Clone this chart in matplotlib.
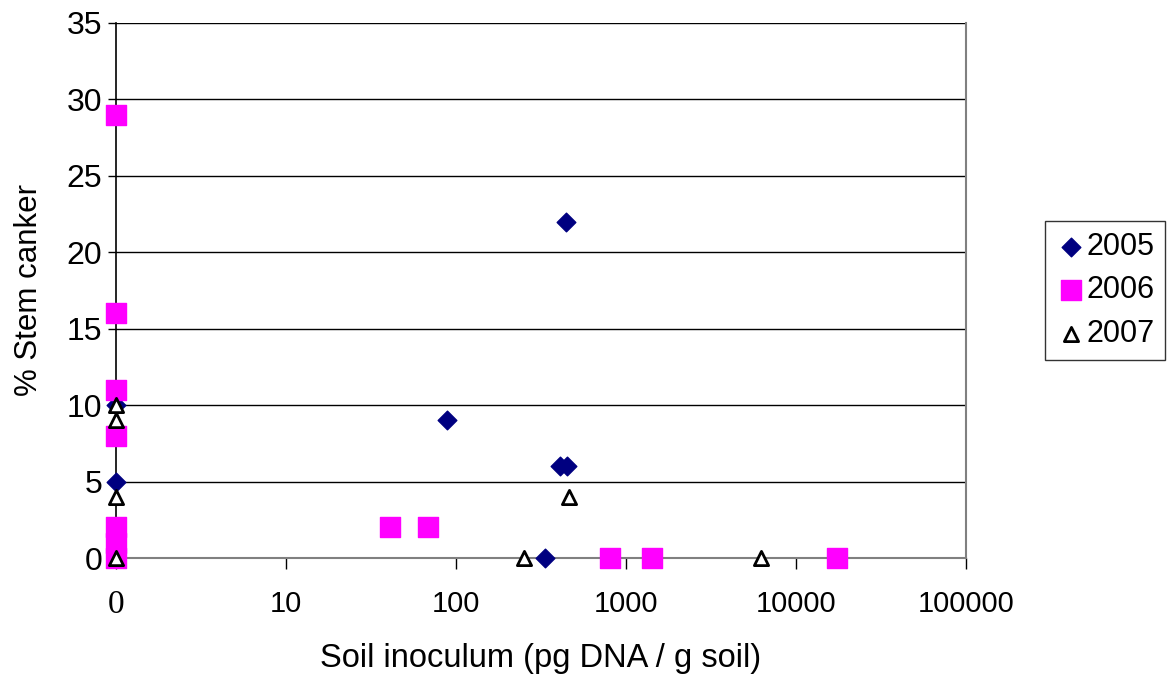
import matplotlib.pyplot as plt
import numpy as np

# soil inoculum (pg DNA / g soil); 1 is shown as "0" on the log axis
x_2005 = [1, 1, 88, 444, 409, 450, 334]
y_2005 = [5, 10, 9, 22, 6, 6, 0]

x_2006 = [1, 1, 1, 1, 1, 1, 1, 41, 68, 805, 1420, 17400]
y_2006 = [29, 16, 11, 8, 2, 1, 0, 2, 2, 0, 0, 0]

x_2007 = [1, 1, 1, 1, 251, 462, 6220]
y_2007 = [10, 9, 4, 0, 0, 4, 0]

xticks = [1, 10, 100, 1000, 10000, 100000]
xticklabels = ['0', '10', '100', '1000', '10000', '100000']

plt.rcParams['font.family'] = ['Liberation Sans', 'DejaVu Sans']

fig = plt.figure(figsize=(11.72, 6.79), dpi=100)
ax = fig.add_axes([116 / 1172, 1 - 558 / 679, 850 / 1172, 535 / 679])

ax.scatter(x_2005, y_2005, marker='D', s=90, color='#000080', label='2005',
           zorder=3, clip_on=False)
ax.scatter(x_2006, y_2006, marker='s', s=190, color='#ff00ff', label='2006',
           zorder=3, clip_on=False)
ax.scatter(x_2007, y_2007, marker='^', s=105, facecolor='white', edgecolor='black',
           linewidth=2, label='2007', zorder=4, clip_on=False)

ax.set_xscale('log')
ax.set_xlim(1, 100000)
ax.set_ylim(0, 35)
ax.set_xticks(xticks)
ax.set_xticklabels(xticklabels, fontsize=21)
ax.xaxis.set_minor_locator(plt.NullLocator())
ax.get_xticklabels()[0].set_family('Liberation Serif')
ax.get_xticklabels()[0].set_fontsize(24)
ax.set_yticks(np.arange(0, 36, 5))
ax.tick_params(axis='y', labelsize=23, length=6, width=1, pad=4)
ax.tick_params(axis='x', length=8, width=1, pad=15)

ax.grid(axis='y', color='black', linewidth=1)
ax.set_axisbelow(True)
ax.spines['top'].set_visible(False)
ax.spines['right'].set_color('#808080')
ax.spines['right'].set_linewidth(1.5)
ax.spines['bottom'].set_color('#808080')
ax.spines['bottom'].set_linewidth(1.5)
ax.spines['left'].set_linewidth(1.2)

ax.set_xlabel('Soil inoculum (pg DNA / g soil)', fontsize=23.5, labelpad=16)
ax.set_ylabel('% Stem canker', fontsize=22.5, labelpad=16)

leg = ax.legend(loc='center left', bbox_to_anchor=(1.093, 0.5), fontsize=22,
                frameon=True, fancybox=False, edgecolor='black', handletextpad=0.0,
                borderpad=0.35, labelspacing=0.45, handlelength=1.0, borderaxespad=0)
leg.get_frame().set_linewidth(1)

fig.savefig('out.png', dpi=100)
